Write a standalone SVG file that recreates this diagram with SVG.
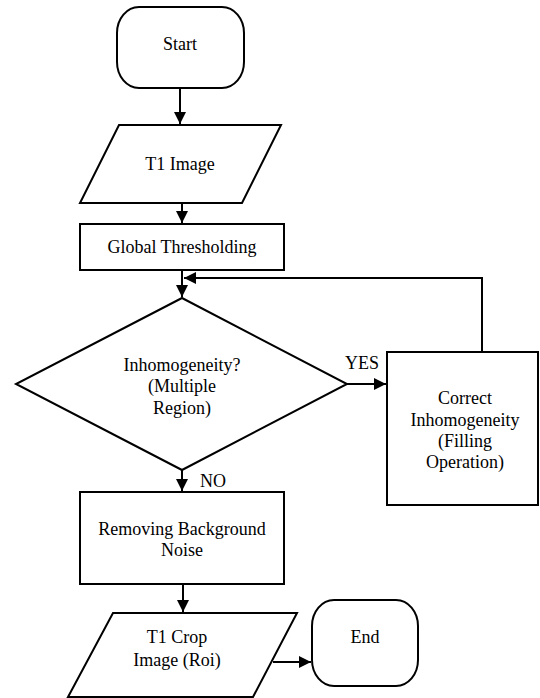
<svg xmlns="http://www.w3.org/2000/svg" width="540" height="698" viewBox="0 0 540 698">
<style>
.s{fill:#fff;stroke:#000;stroke-width:2}
.t{font-family:'Liberation Serif','Times New Roman','DejaVu Serif',serif;font-size:18px;fill:#000;text-anchor:middle}
.c{fill:none;stroke:#000;stroke-width:2}
</style>
<defs>
<marker id="ah" markerWidth="12" markerHeight="12" viewBox="0 0 12 12" refX="12" refY="6" orient="auto" markerUnits="userSpaceOnUse">
<path d="M0,0 L12,6 L0,12 Z" fill="#000"/>
</marker>
</defs>
<rect width="540" height="698" fill="#fff"/>
<g id="connectors">
<line class="c" x1="180" y1="88" x2="180" y2="124" marker-end="url(#ah)"/>
<line class="c" x1="182" y1="203" x2="182" y2="223" marker-end="url(#ah)"/>
<line class="c" x1="182" y1="270" x2="182" y2="297" marker-end="url(#ah)"/>
<polyline class="c" points="482,352 482,278 184,278" marker-end="url(#ah)"/>
<line class="c" x1="347" y1="384" x2="386" y2="384" marker-end="url(#ah)"/>
<line class="c" x1="182" y1="470" x2="182" y2="491" marker-end="url(#ah)"/>
<line class="c" x1="183" y1="584" x2="183" y2="612" marker-end="url(#ah)"/>
<line class="c" x1="273" y1="662" x2="311" y2="662" marker-end="url(#ah)"/>
<text class="t" x="362" y="369" font-family="Liberation Serif, serif">YES</text>
<text class="t" x="213" y="487" font-family="Liberation Serif, serif">NO</text>
</g>
<g id="start">
<rect class="s" x="117" y="7" width="127" height="81" rx="22" ry="26"/>
<text class="t" x="180" y="50">Start</text>
</g>
<g id="t1image">
<polygon class="s" points="119,125 281,125 242,203 80,203"/>
<text class="t" x="180" y="170">T1 Image</text>
</g>
<g id="global">
<rect class="s" x="80" y="224" width="204" height="46"/>
<text class="t" x="182" y="253">Global Thresholding</text>
</g>
<g id="decision">
<polygon class="s" points="182,298 347,384 182,470 16,384"/>
<text class="t" x="182" y="371">Inhomogeneity?</text>
<text class="t" x="182" y="392">(Multiple</text>
<text class="t" x="182" y="414">Region)</text>
</g>
<g id="correct">
<rect class="s" x="387" y="352" width="151" height="153"/>
<text class="t" x="465" y="404">Correct</text>
<text class="t" x="465" y="426">Inhomogeneity</text>
<text class="t" x="465" y="447">(Filling</text>
<text class="t" x="465" y="468">Operation)</text>
</g>
<g id="removing">
<rect class="s" x="80" y="492" width="204" height="92"/>
<text class="t" x="182" y="535">Removing Background</text>
<text class="t" x="182" y="556">Noise</text>
</g>
<g id="crop">
<polygon class="s" points="113,613 297,613 253,697 68,697"/>
<text class="t" x="177" y="643">T1 Crop</text>
<text class="t" x="177" y="666">Image (Roi)</text>
</g>
<g id="end">
<rect class="s" x="312" y="600" width="106" height="86" rx="22" ry="26"/>
<text class="t" x="365" y="643">End</text>
</g>
</svg>
